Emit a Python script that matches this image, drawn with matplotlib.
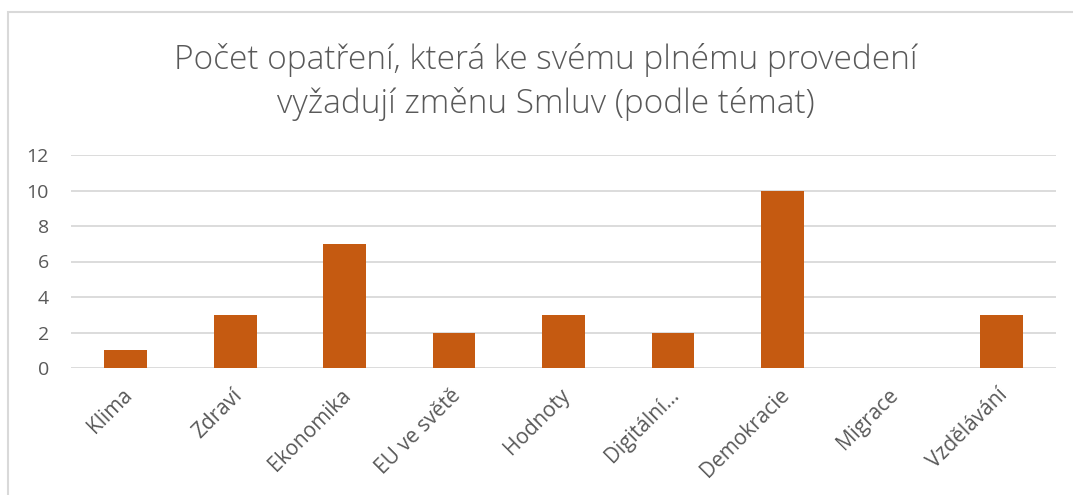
import matplotlib
matplotlib.use("Agg")
import matplotlib.pyplot as plt
from matplotlib.patches import Rectangle
import matplotlib.transforms as mtransforms

categories = ["Klima", "Zdraví", "Ekonomika", "EU ve světě", "Hodnoty",
              "Digitální…", "Demokracie", "Migrace", "Vzdělávání"]
values = [1, 3, 7, 2, 3, 2, 10, 0, 3]
yticks = [0, 2, 4, 6, 8, 10, 12]
title = "Počet opatření, která ke svému plnému provedení\nvyžadují změnu Smluv (podle témat)"

W, H = 1073, 495
fig = plt.figure(figsize=(W / 100, H / 100), dpi=100)
fig.patch.set_facecolor("white")

# outer chart border (cropped on right and bottom)
fig.add_artist(Rectangle((7.5 / W, -0.05), 1.2, (H - 11.5) / H + 0.05,
                         transform=fig.transFigure, fill=False,
                         edgecolor="#D9D9D9", linewidth=1.5))

left, right, top, bottom = 71, 1056, 155, 368
ax = fig.add_axes([left / W, 1 - bottom / H, (right - left) / W, (bottom - top) / H])
x = range(len(categories))
ax.bar(x, values, width=0.39, color="#C55A11", zorder=3)
ax.set_xlim(-0.5, len(categories) - 0.5)
ax.set_ylim(0, 12)
ax.set_yticks(yticks)
ax.set_yticklabels([str(v) for v in yticks])
ax.yaxis.grid(True, color="#D9D9D9", linewidth=1.3, zorder=0)
ax.set_axisbelow(True)
for s in ax.spines.values():
    s.set_visible(False)
ax.tick_params(axis="both", length=0, colors="#595959", labelsize=14)
ax.tick_params(axis="y", pad=16)
ax.set_xticks(list(x))
ax.set_xticklabels(categories, rotation=45, ha="right", va="top",
                   rotation_mode="anchor", fontfamily="Open Sans", fontsize=15)
for lbl in ax.get_yticklabels():
    lbl.set_fontfamily("Open Sans")
ax.tick_params(axis="x", pad=12)
for lbl in ax.get_xticklabels():
    lbl.set_transform(lbl.get_transform() + mtransforms.ScaledTranslation(-0.04, 0, fig.dpi_scale_trans))

fig.text(546 / W, 1 - 82 / H, title, ha="center", va="center", fontsize=24,
         color="#595959", fontfamily="Open Sans", fontweight="light", linespacing=1.38)

fig.savefig("out.png", dpi=100)
